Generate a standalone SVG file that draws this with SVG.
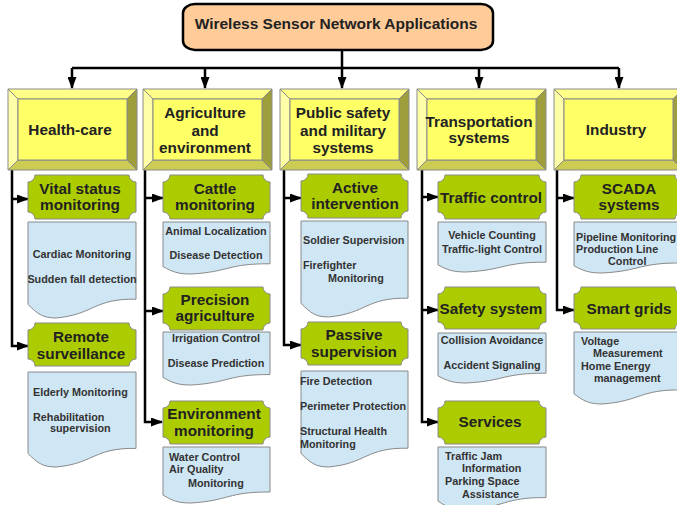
<svg xmlns="http://www.w3.org/2000/svg" width="677" height="505" viewBox="0 0 677 505">
<defs>
<style>
text{font-family:"Liberation Sans",Arial,sans-serif;font-weight:bold;fill:#222}
.big{font-size:15.3px;text-anchor:middle}
.sm{font-size:10.8px;fill:#333}
.mid{text-anchor:middle}
.ttl{font-size:15.5px;text-anchor:middle}
.grn{fill:#adcc00;stroke:#8a8a8a;stroke-width:1}
.doc{fill:#cfe6f4;stroke:#8a8a8a;stroke-width:1}
.face{fill:#ffff66;stroke:#8a8a8a;stroke-width:1}
.bt{fill:#ffff88;stroke:#8a8a8a;stroke-width:1}
.bl{fill:#ffffa8;stroke:#8a8a8a;stroke-width:1}
.br{fill:#9e9e3c;stroke:#8a8a8a;stroke-width:1}
.bb{fill:#cccc55;stroke:#8a8a8a;stroke-width:1}
.con{fill:none;stroke:#000;stroke-width:2.5}
</style>
<marker id="ah" markerWidth="12" markerHeight="9" refX="11" refY="4.5" orient="auto" markerUnits="userSpaceOnUse">
<path d="M0,0 L12,4.5 L0,9 Z" fill="#000"/>
</marker>
<g id="bevel">
<polygon class="bt" points="0,0 129,0 119,10 10,10"/>
<polygon class="bl" points="0,0 10,10 10,71 0,81"/>
<polygon class="br" points="129,0 129,81 119,71 119,10"/>
<polygon class="bb" points="0,81 10,71 119,71 129,81"/>
<rect class="face" x="10" y="10" width="109" height="61"/>
</g>
</defs>

<g id="connectors">
<path class="con" d="M342,50 V68 M72,68 H619"/>
<path class="con" d="M72,68 V88" marker-end="url(#ah)"/>
<path class="con" d="M205,68 V88" marker-end="url(#ah)"/>
<path class="con" d="M342,68 V88" marker-end="url(#ah)"/>
<path class="con" d="M479,68 V88" marker-end="url(#ah)"/>
<path class="con" d="M619,68 V88" marker-end="url(#ah)"/>
<path class="con" d="M12,170 V346 H28" marker-end="url(#ah)"/>
<path class="con" d="M12,199 H28" marker-end="url(#ah)"/>
<path class="con" d="M145,170 V422 H162" marker-end="url(#ah)"/>
<path class="con" d="M145,198 H163" marker-end="url(#ah)"/>
<path class="con" d="M145,311 H163" marker-end="url(#ah)"/>
<path class="con" d="M284,170 V345 H301" marker-end="url(#ah)"/>
<path class="con" d="M284,198 H301" marker-end="url(#ah)"/>
<path class="con" d="M422,170 V422 H438" marker-end="url(#ah)"/>
<path class="con" d="M422,197 H438" marker-end="url(#ah)"/>
<path class="con" d="M422,310 H438" marker-end="url(#ah)"/>
<path class="con" d="M557,170 V310 H574" marker-end="url(#ah)"/>
<path class="con" d="M557,198 H574" marker-end="url(#ah)"/>
</g>

<g id="root">
<rect x="183" y="4" width="310" height="46" rx="12" ry="9" fill="#ffcc99" stroke="#000" stroke-width="2.5"/>
<text class="ttl" x="336" y="29">Wireless Sensor Network Applications</text>
</g>

<g id="healthcare">
<use href="#bevel" transform="translate(8,89)"/>
<text class="big" x="70" y="135">Health-care</text>
</g>
<g id="agriculture">
<use href="#bevel" transform="translate(143,89)"/>
<text class="big" x="205" y="118">Agriculture</text>
<text class="big" x="205" y="135.5">and</text>
<text class="big" x="205" y="153">environment</text>
</g>
<g id="publicsafety">
<use href="#bevel" transform="translate(280,89)"/>
<text class="big" x="343" y="118">Public safety</text>
<text class="big" x="343" y="135.5">and military</text>
<text class="big" x="343" y="153">systems</text>
</g>
<g id="transportation">
<use href="#bevel" transform="translate(417,89)"/>
<text class="big" x="479" y="127">Transportation</text>
<text class="big" x="479" y="143">systems</text>
</g>
<g id="industry">
<use href="#bevel" transform="translate(554,89)"/>
<text class="big" x="616" y="135">Industry</text>
</g>

<g id="vital">
<path class="grn" d="M35,175 H129 A7,7 0 0 0 136,182 V212 A7,7 0 0 0 129,219 H35 A7,7 0 0 0 28,212 V182 A7,7 0 0 0 35,175 Z"/>
<text class="big" x="80" y="194">Vital status</text>
<text class="big" x="80" y="210">monitoring</text>
</g>
<g id="vital-doc">
<path class="doc" d="M28,222 H136 V299.2 C93.2,298.5 94.7,314.3 56.1,318 C42.3,318 37.2,313.5 28,304.4 Z"/>
<text class="sm mid" x="82" y="258">Cardiac Monitoring</text>
<text class="sm mid" x="82" y="283">Sudden fall detection</text>
</g>
<g id="remote">
<path class="grn" d="M35,323 H129 A7,7 0 0 0 136,330 V359 A7,7 0 0 0 129,366 H35 A7,7 0 0 0 28,359 V330 A7,7 0 0 0 35,323 Z"/>
<text class="big" x="81" y="342">Remote</text>
<text class="big" x="81" y="359">surveillance</text>
</g>
<g id="remote-doc">
<path class="doc" d="M28,372 H136 V448.4 C93.2,447.7 94.7,463.4 56.1,467 C42.3,467 37.2,462.6 28,453.5 Z"/>
<text class="sm" x="33" y="396">Elderly Monitoring</text>
<text class="sm" x="33" y="421">Rehabilitation</text>
<text class="sm" x="50" y="432">supervision</text>
</g>

<g id="cattle">
<path class="grn" d="M170,175 H263 A7,7 0 0 0 270,182 V212 A7,7 0 0 0 263,219 H170 A7,7 0 0 0 163,212 V182 A7,7 0 0 0 170,175 Z"/>
<text class="big" x="215" y="194">Cattle</text>
<text class="big" x="215" y="210">monitoring</text>
</g>
<g id="cattle-doc">
<path class="doc" d="M163,222 H270 V263.8 C227.6,263.4 229.1,272 190.8,274 C177.2,274 172.2,271.6 163,266.6 Z"/>
<text class="sm mid" x="216" y="234.5">Animal Localization</text>
<text class="sm mid" x="216" y="259">Disease Detection</text>
</g>
<g id="precision">
<path class="grn" d="M170,287 H263 A7,7 0 0 0 270,294 V323 A7,7 0 0 0 263,330 H170 A7,7 0 0 0 163,323 V294 A7,7 0 0 0 170,287 Z"/>
<text class="big" x="215" y="304.5">Precision</text>
<text class="big" x="215" y="320.5">agriculture</text>
</g>
<g id="precision-doc">
<path class="doc" d="M163,332 H270 V374.6 C227.6,374.2 229.1,383 190.8,385 C177.2,385 172.2,382.5 163,377.5 Z"/>
<text class="sm mid" x="216" y="342">Irrigation Control</text>
<text class="sm mid" x="216" y="367">Disease Prediction</text>
</g>
<g id="environment">
<path class="grn" d="M170,401 H263 A7,7 0 0 0 270,408 V437 A7,7 0 0 0 263,444 H170 A7,7 0 0 0 163,437 V408 A7,7 0 0 0 170,401 Z"/>
<text class="big" x="214" y="419">Environment</text>
<text class="big" x="214" y="436">monitoring</text>
</g>
<g id="environment-doc">
<path class="doc" d="M163,447 H270 V492 C227.6,491.6 229.1,500.8 190.8,503 C177.2,503 172.2,500.4 163,495.1 Z"/>
<text class="sm" x="169" y="461">Water Control</text>
<text class="sm" x="169" y="473">Air Quality</text>
<text class="sm" x="188" y="487">Monitoring</text>
</g>

<g id="active">
<path class="grn" d="M308,174 H401 A7,7 0 0 0 408,181 V211 A7,7 0 0 0 401,218 H308 A7,7 0 0 0 301,211 V181 A7,7 0 0 0 308,174 Z"/>
<text class="big" x="355" y="193">Active</text>
<text class="big" x="355" y="209">intervention</text>
</g>
<g id="active-doc">
<path class="doc" d="M301,221 H408 V298.2 C365.6,297.5 367.1,313.3 328.8,317 C315.2,317 310.2,312.5 301,303.4 Z"/>
<text class="sm" x="303" y="244">Soldier Supervision</text>
<text class="sm" x="303" y="269">Firefighter</text>
<text class="sm" x="328" y="282">Monitoring</text>
</g>
<g id="passive">
<path class="grn" d="M308,322 H401 A7,7 0 0 0 408,329 V358 A7,7 0 0 0 401,365 H308 A7,7 0 0 0 301,358 V329 A7,7 0 0 0 308,322 Z"/>
<text class="big" x="354" y="340">Passive</text>
<text class="big" x="354" y="357">supervision</text>
</g>
<g id="passive-doc">
<path class="doc" d="M301,371 H408 V448.2 C365.6,447.5 367.1,463.3 328.8,467 C315.2,467 310.2,462.5 301,453.4 Z"/>
<text class="sm" x="300" y="385">Fire Detection</text>
<text class="sm" x="300" y="410">Perimeter Protection</text>
<text class="sm" x="300" y="435">Structural Health</text>
<text class="sm" x="300" y="448">Monitoring</text>
</g>

<g id="traffic">
<path class="grn" d="M445,175 H539 A7,7 0 0 0 546,182 V212 A7,7 0 0 0 539,219 H445 A7,7 0 0 0 438,212 V182 A7,7 0 0 0 445,175 Z"/>
<text class="big" x="491" y="203">Traffic control</text>
</g>
<g id="traffic-doc">
<path class="doc" d="M438,222 H546 V262.2 C503.2,261.9 504.7,270.1 466.1,272 C452.3,272 447.2,269.7 438,264.9 Z"/>
<text class="sm mid" x="492" y="239">Vehicle Counting</text>
<text class="sm mid" x="492" y="253">Traffic-light Control</text>
</g>
<g id="safety">
<path class="grn" d="M445,287 H539 A7,7 0 0 0 546,294 V322 A7,7 0 0 0 539,329 H445 A7,7 0 0 0 438,322 V294 A7,7 0 0 0 445,287 Z"/>
<text class="big" x="491" y="314">Safety system</text>
</g>
<g id="safety-doc">
<path class="doc" d="M438,333 H546 V373.2 C503.2,372.9 504.7,381.1 466.1,383 C452.3,383 447.2,380.7 438,375.9 Z"/>
<text class="sm mid" x="492" y="344">Collision Avoidance</text>
<text class="sm mid" x="492" y="369">Accident Signaling</text>
</g>
<g id="services">
<path class="grn" d="M445,401 H539 A7,7 0 0 0 546,408 V437 A7,7 0 0 0 539,444 H445 A7,7 0 0 0 438,437 V408 A7,7 0 0 0 445,401 Z"/>
<text class="big" x="490" y="427">Services</text>
</g>
<g id="services-doc">
<path class="doc" d="M438,447 H546 V497.6 C503.2,497.2 504.7,507.6 466.1,510 C452.3,510 447.2,507.1 438,501.1 Z"/>
<text class="sm" x="445" y="460">Traffic Jam</text>
<text class="sm" x="462" y="472">Information</text>
<text class="sm" x="445" y="485">Parking Space</text>
<text class="sm" x="462" y="498">Assistance</text>
</g>

<g id="scada">
<path class="grn" d="M581,175 H675 A7,7 0 0 0 682,182 V212 A7,7 0 0 0 675,219 H581 A7,7 0 0 0 574,212 V182 A7,7 0 0 0 581,175 Z"/>
<text class="big" x="629" y="194">SCADA</text>
<text class="big" x="629" y="210">systems</text>
</g>
<g id="scada-doc">
<path class="doc" d="M574,222 H682 V263 C639.2,262.6 640.7,271 602.1,273 C588.3,273 583.2,270.6 574,265.8 Z"/>
<text class="sm" x="576" y="240.5">Pipeline Monitoring</text>
<text class="sm" x="576" y="253">Production Line</text>
<text class="sm" x="608" y="264.5">Control</text>
</g>
<g id="smartgrids">
<path class="grn" d="M581,287 H675 A7,7 0 0 0 682,294 V322 A7,7 0 0 0 675,329 H581 A7,7 0 0 0 574,322 V294 A7,7 0 0 0 581,287 Z"/>
<text class="big" x="629" y="314">Smart grids</text>
</g>
<g id="smartgrids-doc">
<path class="doc" d="M574,332 H682 V389.9 C639.2,389.4 640.7,401.2 602.1,404 C588.3,404 583.2,400.6 574,393.8 Z"/>
<text class="sm" x="581" y="345">Voltage</text>
<text class="sm" x="593" y="357">Measurement</text>
<text class="sm" x="581" y="370">Home Energy</text>
<text class="sm" x="594" y="382">management</text>
</g>
</svg>
